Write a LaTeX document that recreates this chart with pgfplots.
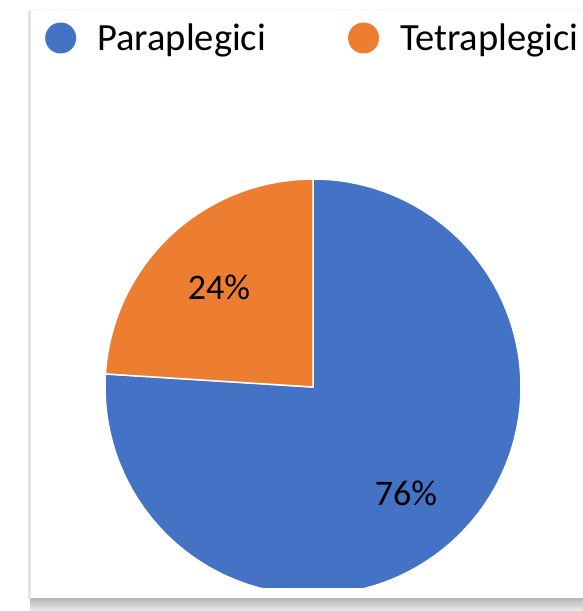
\documentclass[border=0pt]{standalone}
\usepackage{pgfplots}
\pgfplotsset{compat=1.18}
\usepackage{fontspec}
\setmainfont{Carlito}
\definecolor{pblue}{HTML}{4472C4}
\definecolor{porange}{HTML}{ED7D31}
\begin{document}
\begin{tikzpicture}[x=1pt,y=1pt]
\useasboundingbox (0,0) rectangle (583,611);
\begin{axis}[
  at={(0,0)}, anchor=south west,
  width=583pt, height=611pt, scale only axis,
  xmin=0, xmax=583, ymin=0, ymax=611,
  hide axis, clip=false,
  legend columns=2,
  legend style={at={(axis cs:45,573)}, anchor=west, draw=none, fill=none,
    font=\fontsize{38.5}{44}\selectfont, inner sep=0pt,
    nodes={inner sep=0pt},
    /tikz/every even column/.append style={column sep=82pt}},
  legend cell align=left,
  legend image code/.code={\fill[draw=none] (15.5pt,0) circle (15.5pt); \path[draw=none,fill=none] (0pt,0) -- (52pt,0);},
]
% frame
\fill[white] (axis cs:30,12) rectangle (axis cs:583,601);
\shade[top color=gray!55, bottom color=gray!15] (axis cs:30,0) rectangle (axis cs:583,12);
\draw[gray!22, line width=3pt] (axis cs:29.5,12) -- (axis cs:29.5,601);
\draw[gray!8, line width=1pt] (axis cs:31,601) -- (axis cs:583,601);
% pie (values 76 and 24); bottom clipped by the chart area at y=22
\addplot[fill=pblue, draw=white, line width=1.5pt, domain={90+3.6*24}:450, samples=240]
  ({313+208*cos(x)},{max(22,224+208*sin(x))}) -- (313,224) -- cycle;
\addlegendentry{Paraplegici}
\addplot[fill=porange, draw=white, line width=1.5pt, domain=90:{90+3.6*24}, samples=80]
  ({313+208*cos(x)},{224+208*sin(x)}) -- (313,224) -- cycle;
\addlegendentry{Tetraplegici}
\node[font=\fontsize{36}{42}\selectfont] at (axis cs:219,324) {24\%};
\node[font=\fontsize{36}{42}\selectfont] at (axis cs:406,118) {76\%};
\end{axis}
\end{tikzpicture}
\end{document}
